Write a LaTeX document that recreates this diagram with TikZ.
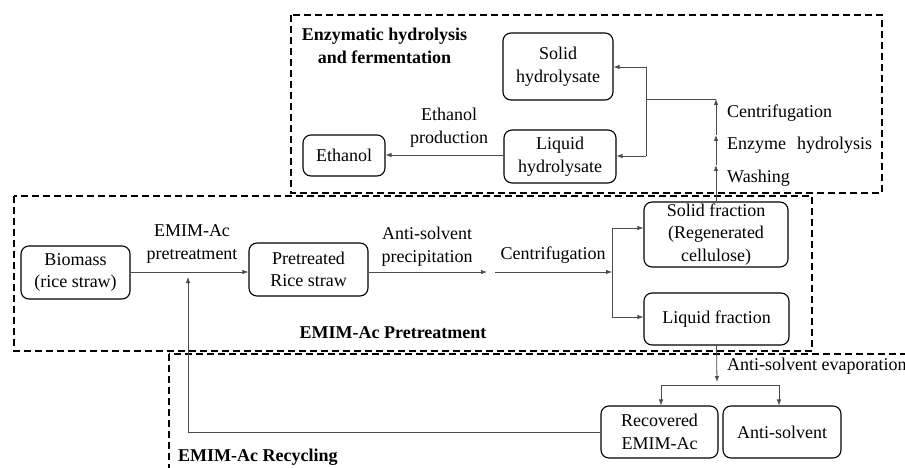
\documentclass[tikz,border=0pt]{standalone}
\usepackage{fontspec}
\setmainfont{Liberation Serif}
\usetikzlibrary{arrows.meta}
\newcommand\myfs{\fontsize{18}{22.5}\selectfont}
\begin{document}
\begin{tikzpicture}[x=1pt,y=-1pt,
  box/.style={draw, line width=1.1pt, rounded corners=8pt, inner sep=0pt, align=center, font=\myfs},
  region/.style={draw, dash pattern=on 7pt off 4pt, line width=1.2pt},
  conn/.style={draw=black!70, line width=0.8pt},
  arr/.style={conn, -{Latex[length=6pt,width=4.5pt]}},
  lbl/.style={inner sep=0pt, align=center, font=\myfs},
  title/.style={inner sep=0pt, align=center, font=\myfs\bfseries}]
\clip (0,0) rectangle (905,468);
\useasboundingbox (0,0) rectangle (905,468);
\fill[white] (0,0) rectangle (905,468);

% regions
\draw[region] (291,15) rectangle (882,193);
\draw[region] (14,196) rectangle (812,351);
\draw[region] (169,354) rectangle (930,490);

% boxes
\node[box, minimum width=110pt, minimum height=67pt] (solidh) at (558,66.5) {Solid\\hydrolysate};
\node[box, minimum width=112pt, minimum height=53pt] (liquidh) at (560,156.5) {Liquid\\hydrolysate};
\node[box, minimum width=82pt, minimum height=41pt] (ethanol) at (344,155.5) {Ethanol};
\node[box, minimum width=109pt, minimum height=53pt] (biomass) at (75.5,272.5) {Biomass\\(rice straw)};
\node[box, minimum width=119pt, minimum height=53pt] (pretreated) at (308.5,269.5) {Pretreated\\Rice straw};
\node[box, minimum width=144pt, minimum height=65pt] (solidf) at (716,234.5) {Solid fraction\\(Regenerated\\cellulose)};
\node[box, minimum width=145pt, minimum height=52pt] (liquidf) at (716.5,319) {Liquid fraction};
\node[box, minimum width=117pt, minimum height=52pt] (recovered) at (659.5,432) {Recovered\\EMIM-Ac};
\node[box, minimum width=118pt, minimum height=52pt] (antisolvent) at (782,432) {Anti-solvent};

% labels
\node[title] (t1) at (384.5,46) {Enzymatic hydrolysis\\and fermentation};
\node[title] (t2) at (393,333) {EMIM-Ac Pretreatment};
\node[title, anchor=west] (t3) at (178,457) {EMIM-Ac Recycling};
\node[lbl] (l1) at (449,127.5) {Ethanol\\production};
\node[lbl, anchor=west] (l2) at (727,113) {Centrifugation};
\node[lbl, anchor=west] (l3) at (727,145) {Enzyme\hspace{11pt}hydrolysis};
\node[lbl, anchor=west] (l4) at (727,178) {Washing};
\node[lbl] (l5) at (192,244) {EMIM-Ac\\pretreatment};
\node[lbl] (l6) at (427,246.5) {Anti-solvent\\precipitation};
\node[lbl] (l7) at (553,255) {Centrifugation};
\node[lbl, anchor=west] (l8) at (727,366) {Anti-solvent evaporation};

% coordinates
\coordinate (p1) at (487,272);
\coordinate (p2) at (495,272);
\coordinate (br) at (612,272);
\coordinate (brt) at (612,228);
\coordinate (brb) at (612,317);
\coordinate (w1) at (716,165);
\coordinate (w2) at (716,135);
\coordinate (w3) at (716,99);
\coordinate (hj) at (646,99);
\coordinate (ht) at (646,67);
\coordinate (hb) at (646,156);
\coordinate (ev) at (717,382);
\coordinate (evl) at (661,385);
\coordinate (evr) at (779,385);
\coordinate (rc) at (188,432);
\coordinate (rt) at (188,277);

% pretreatment flow
\draw[arr] (biomass.east |- 0,272) -- (pretreated.west |- 0,272);
\draw[arr] (pretreated.east |- 0,272) -- (p1);
\draw[arr] (p2) -- (br);
\draw[conn] (brt) -- (brb);
\draw[arr] (brt) -- (solidf.west |- brt);
\draw[arr] (brb) -- (liquidf.west |- brb);

% upward to hydrolysis
\draw[arr] (solidf.north) -- (w1);
\draw[arr] (w1) -- (w2);
\draw[arr] (w2) -- (w3);
\draw[conn] (w3) -- (hj);
\draw[conn] (ht) -- (hb);
\draw[arr] (ht) -- (solidh.east |- ht);
\draw[arr] (hb) -- (liquidh.east |- hb);
\draw[arr] (liquidh.west |- 0,155) -- (ethanol.east |- 0,155);

% recycling
\draw[arr] (liquidf.south) -- (ev);
\draw[conn] (evl) -- (evr);
\draw[arr] (evl) -- (evl |- recovered.north);
\draw[arr] (evr) -- (evr |- antisolvent.north);
\draw[arr] (recovered.west) -- (rc) -- (rt);
\end{tikzpicture}
\end{document}
